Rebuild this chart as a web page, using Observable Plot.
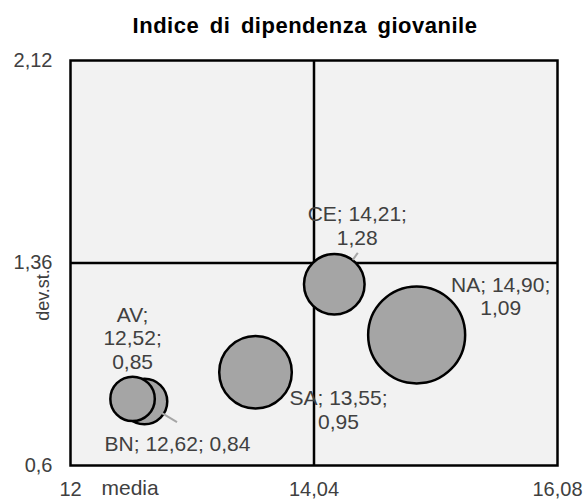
<!DOCTYPE html>
<html><head><meta charset="utf-8">
<script src="https://cdn.jsdelivr.net/npm/d3@7"></script>
<script src="https://cdn.jsdelivr.net/npm/@observablehq/plot@0.6"></script>
<style>body{margin:0;background:#fff}</style>
</head><body><div id="chart"></div>
<script>
// ---- data ----
const province = ["AV", "BN", "SA", "CE", "NA"];
const media = [12.52, 12.62, 13.55, 14.21, 14.90];
const devst = [0.85, 0.84, 0.95, 1.28, 1.09];
const peso = [21, 22, 56, 39, 100];   // bubble size (relative)
const xTicks = [12, 14.04, 16.08];
const yTicks = [0.6, 1.36, 2.12];
const xCross = 14.04, yCross = 1.36;
const titleText = "Indice di dipendenza giovanile";
const xLabel = "media", yLabel = "dev.st.";

// ---- layout (label placement, pixel offsets) ----
const labelLayout = {
  AV: {sep1: "\n", sep2: "\n", dx: 0, dy: -61},
  BN: {sep1: " ", sep2: " ", dx: 33, dy: 42},
  SA: {sep1: " ", sep2: "\n", dx: 83, dy: 37},
  CE: {sep1: " ", sep2: "\n", dx: 23, dy: -59},
  NA: {sep1: " ", sep2: "\n", dx: 84, dy: -39}
};
const leaders = {BN: [18, 12, 33, 21], CE: [19, -24, 24, -31]};

const fmt = v => String(v).replace(".", ",");
const fmt2 = v => v.toFixed(2).replace(".", ",");

const data = province.map((p, i) => {
  const L = labelLayout[p];
  return {p, x: media[i], y: devst[i], s: peso[i],
    label: `${p};${L.sep1}${fmt2(media[i])};${L.sep2}${fmt2(devst[i])}`,
    dx: L.dx, dy: L.dy};
});

const txt = "#404040";
const chart = Plot.plot({
  width: 585, height: 500,
  marginLeft: 70, marginRight: 28, marginTop: 60, marginBottom: 35,
  style: {fontFamily: "'Liberation Sans', Arial, sans-serif", fontSize: "20px", background: "#fff", color: txt},
  x: {domain: [xTicks[0], xTicks[2]], axis: null},
  y: {domain: [yTicks[0], yTicks[2]], axis: null},
  r: {domain: [0, 100], range: [0, 48.5]},
  marks: [
    Plot.frame({fill: "#f2f2f2", stroke: null}),
    Plot.ruleX([xCross], {stroke: "black", strokeWidth: 2.5}),
    Plot.ruleY([yCross], {stroke: "black", strokeWidth: 2.5}),
    Plot.dot(data, {x: "x", y: "y", r: "s", fill: "#a5a5a5", fillOpacity: 1, stroke: "black", strokeWidth: 2.5}),
    ...data.map(d => Plot.text([d], {x: "x", y: "y", text: "label", dx: d.dx, dy: d.dy,
      fill: txt, fontSize: 21, lineHeight: 1.12, lineAnchor: "middle", textAnchor: "middle"})),
    Plot.frame({stroke: "black", strokeWidth: 2.5}),
    Plot.axisX({ticks: xTicks, tickFormat: fmt, tickSize: 0, tickPadding: 16, label: null, fill: txt, fontSize: 20}),
    Plot.axisY({ticks: yTicks, tickFormat: fmt, tickSize: 0, tickPadding: 18, label: null, fill: txt, fontSize: 20}),
    Plot.text([xLabel], {frameAnchor: "bottom-left", dx: 31, dy: 23, textAnchor: "start", lineAnchor: "middle", fill: txt, fontSize: 21}),
    Plot.text([yLabel], {frameAnchor: "left", dx: -27, dy: 32, rotate: -90, textAnchor: "middle", lineAnchor: "middle", fill: txt, fontSize: 18}),
    Plot.text([titleText], {frameAnchor: "top", dx: -9, dy: -28, lineAnchor: "bottom", fontWeight: "bold", fontSize: 22, fill: "black"})
  ]
});

// title spacing like the reference
d3.select(chart).selectAll("text").filter(function() { return this.textContent === titleText; })
  .style("letter-spacing", "0.5px").style("word-spacing", "4px");

// leader lines, positioned through the plot's own scales
const sx = chart.scale("x"), sy = chart.scale("y");
const g = d3.select(chart).insert("g", "g[aria-label='text']").attr("aria-label", "leaders");
for (const d of data) {
  const l = leaders[d.p];
  if (!l) continue;
  const cx = sx.apply(d.x), cy = sy.apply(d.y);
  g.append("line").attr("x1", cx + l[0]).attr("y1", cy + l[1]).attr("x2", cx + l[2]).attr("y2", cy + l[3])
    .attr("stroke", "#a6a6a6").attr("stroke-width", 2);
}
document.getElementById("chart").append(chart);
</script>
</body></html>
